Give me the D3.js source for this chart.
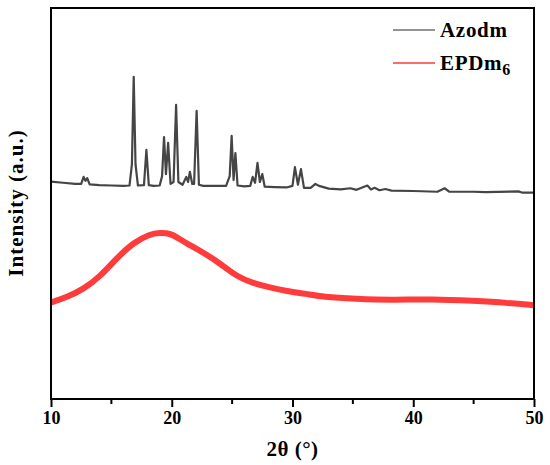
<!DOCTYPE html>
<html>
<head>
<meta charset="utf-8">
<script src="https://cdn.jsdelivr.net/npm/d3@7"></script>
<style>
  body { margin: 0; background: #fff; }
  text { font-family: "Liberation Serif", "DejaVu Serif", serif; font-weight: bold; }
</style>
</head>
<body>
<div id="chart"></div>
<script>
// 2theta (deg) and intensity (a.u.)
var azodmTheta = [10.0, 11.0, 12.0, 12.5, 12.7, 12.85, 13.0, 13.2, 14.0, 15.0, 16.0, 16.5, 16.7, 16.85, 17.0, 17.2,
    17.7, 17.9, 18.1, 18.5, 19.0, 19.2, 19.36, 19.52, 19.7, 19.9, 20.15, 20.36, 20.55, 20.9, 21.2, 21.35, 21.5,
    21.7, 21.85, 22.06, 22.25, 22.6, 23.5, 24.5, 24.8, 24.96, 25.12, 25.27, 25.45, 26.0, 26.5, 26.7, 26.9, 27.1,
    27.3, 27.5, 27.7, 28.5, 29.5, 30.0, 30.2, 30.45, 30.7, 30.95, 31.5, 31.9, 32.2, 33.0, 34.0, 34.8, 35.3, 36.2,
    36.5, 36.8, 37.2, 37.7, 38.2, 40.0, 42.0, 42.6, 43.0, 45.0, 46.0, 48.7, 49.0, 50.0];
var azodmValue = [55.6, 55.3, 55.0, 55.0, 56.8, 55.8, 56.5, 54.9, 54.7, 54.6, 54.5, 54.6, 60.0, 82.4, 60.0, 54.6,
    54.7, 63.7, 54.7, 54.5, 54.6, 57.0, 67.0, 57.5, 65.5, 55.0, 55.5, 75.2, 55.5, 54.8, 56.8, 55.5, 58.1,
    55.0, 55.0, 73.7, 54.8, 54.5, 54.5, 54.5, 57.0, 67.3, 56.0, 62.9, 54.6, 54.4, 54.5, 56.8, 55.3, 60.4,
    55.5, 57.5, 54.3, 54.2, 54.1, 54.5, 59.3, 54.8, 58.8, 54.0, 54.0, 55.0, 54.5, 53.8, 53.6, 53.9, 53.5, 54.6,
    53.6, 54.0, 53.4, 53.7, 53.3, 53.2, 53.0, 53.9, 53.0, 53.0, 52.9, 53.1, 52.8, 52.8];

var epdTheta = [10.0, 11.3, 12.7, 14.06, 15.44, 16.82, 18.2, 19.0, 19.86, 20.54, 21.24, 22.6, 24.0, 25.38,
    26.75, 28.14, 29.5, 31.16, 32.5, 35.3, 38.1, 41.6, 45.0, 47.8, 50.0];
var epdValue = [24.7, 26.0, 28.1, 31.3, 36.0, 40.0, 42.2, 42.5, 42.4, 41.1, 39.8, 37.5, 34.7, 31.3,
    29.6, 28.5, 27.6, 26.9, 26.1, 25.6, 25.3, 25.6, 25.1, 24.6, 24.0];

var xTicks = [10, 20, 30, 40, 50];
var xMinorTicks = [15, 25, 35, 45];
var seriesNames = ["Azodm", "EPDm"];
var seriesColors = ["#454545", "#ff3b3b"];
var legendColors = ["#707070", "#ff3b3b"];

var width = 550, height = 465;
var margin = {top: 8, right: 16, bottom: 66, left: 51};

var svg = d3.select("#chart").append("svg")
    .attr("width", width)
    .attr("height", height);

var x = d3.scaleLinear().domain([10, 50]).range([margin.left, width - margin.right]);
var y = d3.scaleLinear().domain([0, 100]).range([height - margin.bottom, margin.top]);

var smoothLine = d3.line()
    .x(function(d) { return x(d[0]); })
    .y(function(d) { return y(d[1]); })
    .curve(d3.curveBasis);

var sharpLine = d3.line()
    .x(function(d) { return x(d[0]); })
    .y(function(d) { return y(d[1]); });

svg.append("path")
    .datum(d3.zip(epdTheta, epdValue))
    .attr("d", smoothLine)
    .attr("fill", "none")
    .attr("stroke", seriesColors[1])
    .attr("stroke-width", 6);

svg.append("path")
    .datum(d3.zip(azodmTheta, azodmValue))
    .attr("d", sharpLine)
    .attr("fill", "none")
    .attr("stroke", seriesColors[0])
    .attr("stroke-width", 2.2)
    .attr("stroke-linejoin", "round");

// frame
svg.append("rect")
    .attr("x", margin.left)
    .attr("y", margin.top)
    .attr("width", width - margin.left - margin.right)
    .attr("height", height - margin.top - margin.bottom)
    .attr("fill", "none")
    .attr("stroke", "#000")
    .attr("stroke-width", 2);

// x axis
var xAxis = svg.append("g")
    .attr("transform", "translate(0," + (height - margin.bottom) + ")")
    .call(d3.axisBottom(x).tickValues(xTicks).tickSize(8).tickPadding(4).tickSizeOuter(0));
xAxis.select(".domain").remove();
xAxis.selectAll("line").attr("stroke", "#000").attr("stroke-width", 2);
xAxis.selectAll("text")
    .attr("fill", "#000")
    .style("font-family", "Liberation Serif")
    .style("font-weight", "bold")
    .style("font-size", "18px");

svg.append("g")
    .selectAll("line")
    .data(xMinorTicks)
    .enter()
    .append("line")
    .attr("x1", function(d) { return x(d); })
    .attr("x2", function(d) { return x(d); })
    .attr("y1", height - margin.bottom)
    .attr("y2", height - margin.bottom + 5)
    .attr("stroke", "#000")
    .attr("stroke-width", 2);

// axis titles
svg.append("text")
    .attr("x", x(30))
    .attr("y", 456)
    .attr("text-anchor", "middle")
    .style("font-size", "21px")
    .style("letter-spacing", "0.5px")
    .text("2θ (°)");

svg.append("text")
    .attr("transform", "translate(23,203) rotate(-90)")
    .attr("text-anchor", "middle")
    .style("font-size", "21px")
    .style("letter-spacing", "1px")
    .text("Intensity (a.u.)");

// legend
var legend = svg.selectAll(".legend")
    .data(seriesNames)
    .enter()
    .append("g")
    .attr("class", "legend")
    .attr("transform", function(d, i) { return "translate(393," + (30 + i * 33) + ")"; });

legend.append("line")
    .attr("x1", 0)
    .attr("x2", 42)
    .attr("stroke", function(d, i) { return legendColors[i]; })
    .attr("stroke-width", 1.5);

var legendText = legend.append("text")
    .attr("x", 47)
    .attr("y", 7)
    .style("font-size", "21px")
    .style("letter-spacing", "0.7px")
    .text(function(d) { return d; });

legendText.filter(function(d, i) { return i === 1; })
    .append("tspan")
    .attr("dy", 5)
    .style("font-size", "16px")
    .text("6");
</script>
</body>
</html>
